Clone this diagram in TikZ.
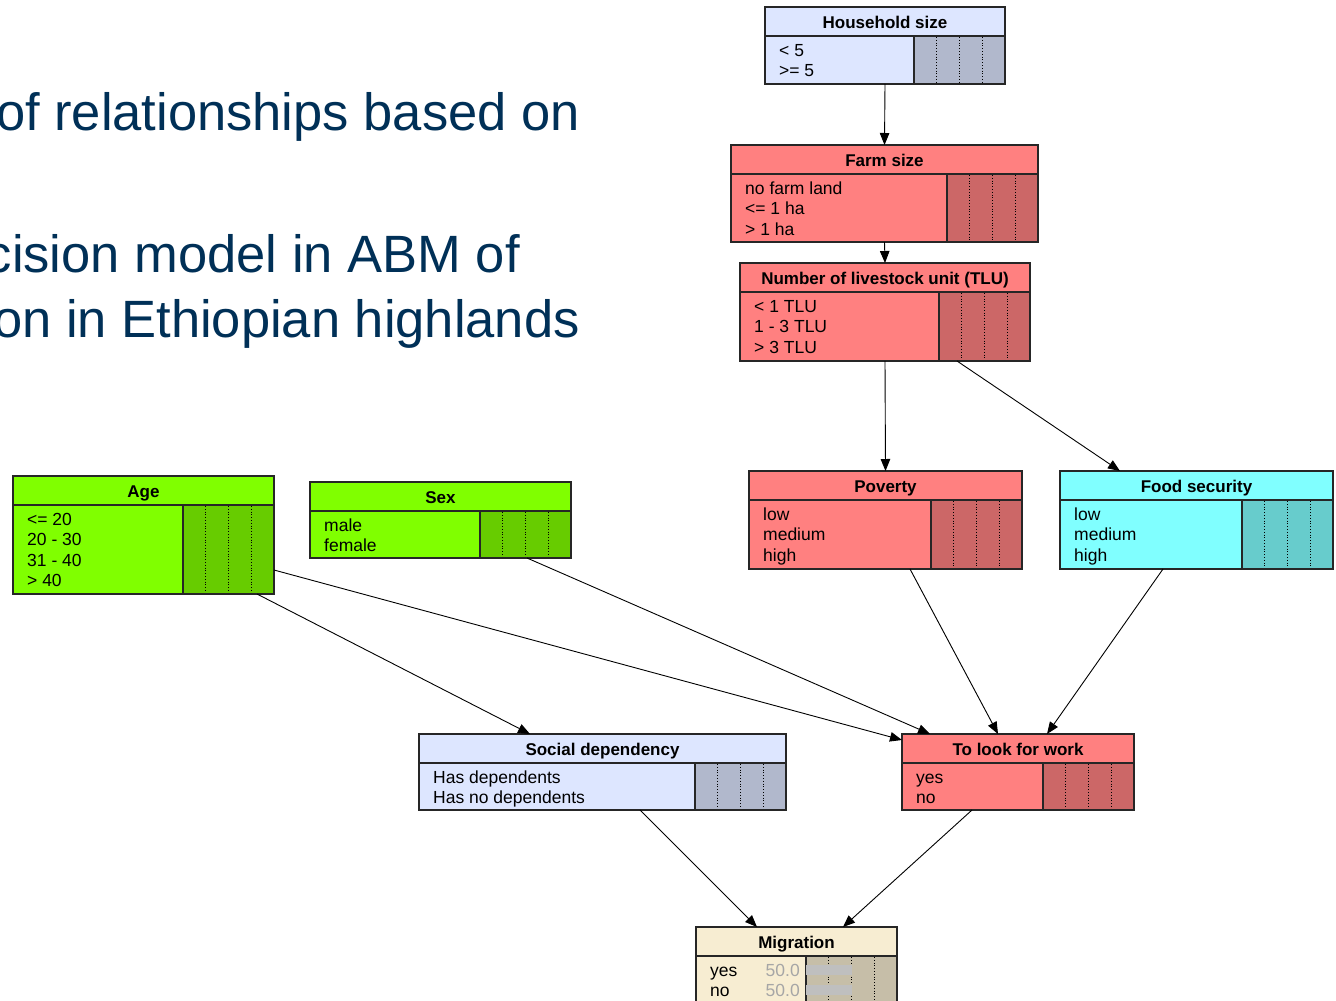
\documentclass[tikz,border=0pt]{standalone}
\usepackage{fontspec}
\setmainfont{Liberation Sans}
\usetikzlibrary{calc,arrows.meta}

\definecolor{slidenavy}{RGB}{0,48,87}
\definecolor{bnblue}{RGB}{221,230,255}
\definecolor{bnred}{RGB}{255,128,128}
\definecolor{bngreen}{RGB}{128,255,0}
\definecolor{bncyan}{RGB}{128,255,255}
\definecolor{bnwheat}{RGB}{247,237,210}

\tikzset{
  bnframe/.style={draw=black!85, line width=1.2pt, inner sep=0pt, outer sep=0pt},
  bntitle/.style={font=\fontsize{17}{20}\selectfont\bfseries, inner sep=0pt, anchor=base},
  bnstate/.style={font=\fontsize{17.5}{21}\selectfont, inner sep=0pt, anchor=base west},
  slidetext/.style={font=\fontsize{52.5}{60}\selectfont, text=slidenavy, inner sep=0pt, anchor=base east},
  link/.style={-{Triangle[length=12pt,width=9.5pt]}, line width=0.9pt, black},
}

% Belief-network node: name, left, top, width, height, colour, title, states
\newcommand{\bnnode}[8]{%
  \node[bnframe, fill=#6, minimum width=#4pt, minimum height=#5pt, anchor=north west] (#1) at (#2,#3) {};
  \fill[#6!80!black] ([xshift=-91pt,yshift=-29pt]#1.north east) rectangle (#1.south east);
  \foreach \f in {0.25,0.5,0.75}
    \draw[dotted, line width=0.8pt] ([xshift={-91pt+\f*91pt},yshift=-30pt]#1.north east)
      -- ([xshift={-91pt+\f*91pt},yshift=1pt]#1.south east);
  \draw[black!85, line width=1.2pt] ([yshift=-29pt]#1.north west) -- ([yshift=-29pt]#1.north east)
    ([xshift=-91pt,yshift=-29pt]#1.north east) -- ([xshift=-91pt]#1.south east);
  \draw[black!85, line width=1.2pt] (#1.north west) rectangle (#1.south east);
  \node[bntitle] at ([yshift=-21.5pt]#1.north) {#7};
  \foreach \s [count=\i] in {#8}
    \node[bnstate] at ([xshift=14pt,yshift={-49pt-(\i-1)*20.5pt}]#1.north west) {\s};
}

\begin{document}
\begin{tikzpicture}[x=1pt, y=-1pt]
  \useasboundingbox (0,0) rectangle (1336,1001);
  \fill[white] (0,0) rectangle (1336,1001);

  % slide text behind the network
  \node[slidetext] (l1) at (580,130) {of relationships based on};
  \node[slidetext] (l2) at (520,272) {cision model in ABM of};
  \node[slidetext] (l3) at (580,337) {on in Ethiopian highlands};

  % nodes
  \bnnode{hh}{765}{7}{240}{77}{bnblue}{Household size}{< 5,>= 5}
  \bnnode{farm}{731}{145}{307}{97}{bnred}{Farm size}{no farm land,<= 1 ha,> 1 ha}
  \bnnode{tlu}{740}{263}{290}{98}{bnred}{Number of livestock unit (TLU)}{< 1 TLU,1 - 3 TLU,> 3 TLU}
  \bnnode{pov}{749}{471}{273}{98}{bnred}{Poverty}{low,medium,high}
  \bnnode{food}{1060}{471}{273}{98}{bncyan}{Food security}{low,medium,high}
  \bnnode{age}{13}{476}{261}{118}{bngreen}{Age}{<= 20,20 - 30,31 - 40,> 40}
  \bnnode{sex}{310}{482}{261}{76}{bngreen}{Sex}{male,female}
  \bnnode{soc}{419}{734}{367}{76}{bnblue}{Social dependency}{Has dependents,Has no dependents}
  \bnnode{work}{902}{734}{232}{76}{bnred}{To look for work}{yes,no}
  \bnnode{mig}{696}{927}{201}{76}{bnwheat}{Migration}{yes,no}

  % belief values of Migration
  \foreach \i in {0,1} {
    \fill[black!25] ([xshift=-91pt,yshift={-38pt-\i*20pt}]mig.north east) rectangle ++(45.5,10);
    \node[bnstate, anchor=base east, text=black!35] at ([xshift=104pt,yshift={-49pt-\i*20.5pt}]mig.north west) {50.0};
  }

  % links
  \draw[link] (hh.south) -- (farm.north);
  \draw[link] (farm.south) -- (tlu.north);
  \draw[link] (tlu.south) -- (pov.north);
  \draw[link] ([xshift=217pt]tlu.south west) -- ([xshift=60pt]food.north west);
  \draw[link] ([xshift=244pt]age.south west) -- ([xshift=111pt]soc.north west);
  \draw[link] ([yshift=-94pt]age.north east) -- ([yshift=-6pt]work.north west);
  \draw[link] ([xshift=217pt]sex.south west) -- ([xshift=28pt]work.north west);
  \draw[link] ([xshift=161pt]pov.south west) -- ([xshift=96pt]work.north west);
  \draw[link] ([xshift=103pt]food.south west) -- ([xshift=145pt]work.north west);
  \draw[link] ([xshift=221pt]soc.south west) -- ([xshift=61pt]mig.north west);
  \draw[link] ([xshift=70pt]work.south west) -- ([xshift=147pt]mig.north west);
\end{tikzpicture}
\end{document}
